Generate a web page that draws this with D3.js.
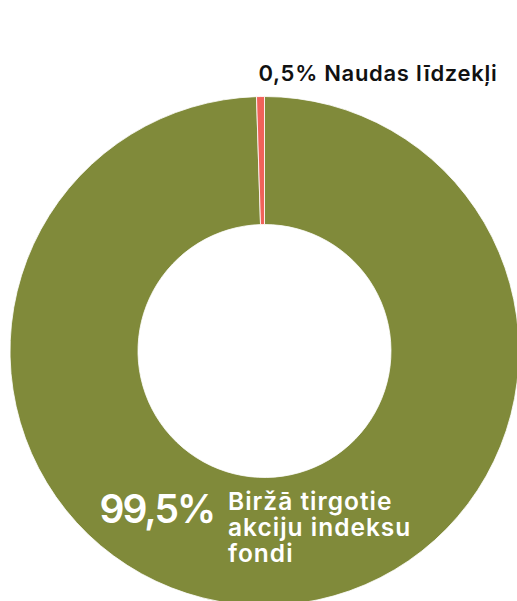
<!DOCTYPE html>
<html>
<head>
<meta charset="utf-8">
<script src="https://cdn.jsdelivr.net/npm/d3@7"></script>
<style>
  html, body { margin: 0; padding: 0; background: #ffffff; }
  svg { display: block; }
</style>
</head>
<body>
<div id="chart"></div>
<script>
const categories = ['Biržā tirgotie akciju indeksu fondi', 'Naudas līdzekļi']
const values = [99.5, 0.5]
const valueLabels = ['99,5%', '0,5%']
const colors = ['#808a3a', '#f0625a']
const bigLabelLines = ['Biržā tirgotie', 'akciju indeksu', 'fondi']

const width = 517
const height = 601
const cx = 264.5
const cy = 351
const outerR = 254.5
const innerR = 126.5

const svg = d3.select('#chart')
  .append('svg')
  .attr('width', width)
  .attr('height', height)

const data = categories.map((c, i) => ({ name: c, value: values[i], label: valueLabels[i], color: colors[i] }))

const pie = d3.pie().value(d => d.value).sort(null)
const arc = d3.arc().innerRadius(innerR).outerRadius(outerR)

const g = svg.append('g').attr('transform', `translate(${cx}, ${cy})`)

g.selectAll('path.slice')
  .data(pie(data))
  .enter()
  .append('path')
  .classed('slice', true)
  .attr('d', arc)
  .style('fill', d => d.data.color)
  .style('stroke', '#ffffff')
  .style('stroke-width', 0.8)

// small slice label (outside, above)
svg.append('text')
  .attr('x', 258.5)
  .attr('y', 81)
  .text(`${data[1].label} ${data[1].name}`)
  .style('font-family', 'Inter, sans-serif')
  .style('font-weight', 600)
  .style('font-size', '22px')
  .style('letter-spacing', '0.7px')
  .style('fill', '#111111')

// big slice label (inside the ring, bottom)
svg.append('text')
  .attr('x', 99.5)
  .attr('y', 523)
  .text(data[0].label)
  .style('font-family', 'Inter, sans-serif')
  .style('font-weight', 600)
  .style('font-size', '39px')
  .style('letter-spacing', '-2px')
  .style('fill', '#ffffff')

svg.selectAll('text.name')
  .data(bigLabelLines)
  .enter()
  .append('text')
  .classed('name', true)
  .attr('x', 228)
  .attr('y', (d, i) => 509.5 + i * 26.1)
  .style('font-family', 'Inter, sans-serif')
  .style('font-weight', 600)
  .style('font-size', '24.5px')
  .style('letter-spacing', '1px')
  .style('fill', '#ffffff')
  .text(d => d)
</script>
</body>
</html>
